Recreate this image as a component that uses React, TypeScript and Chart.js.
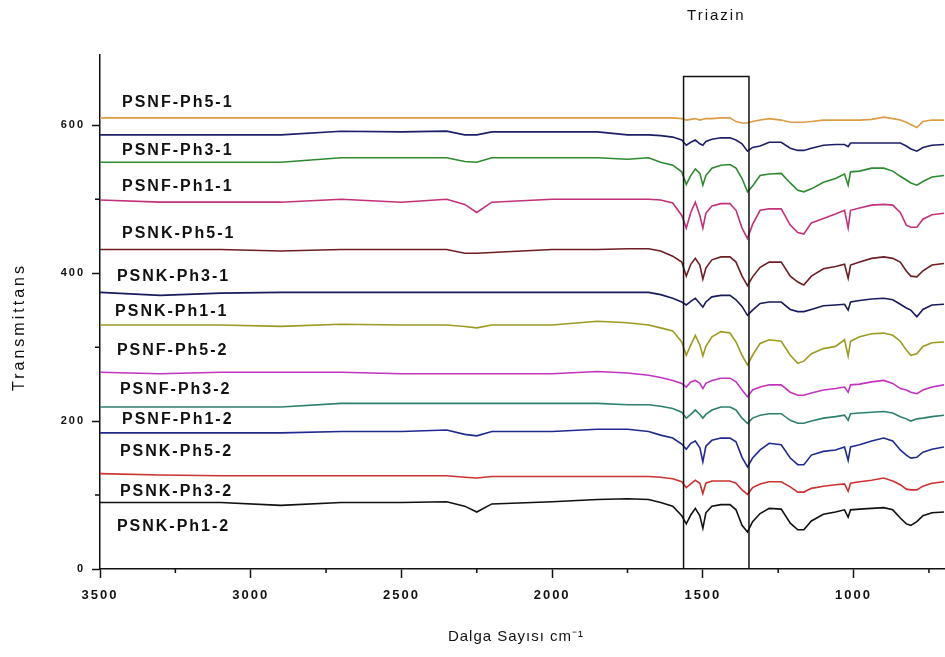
import React, { useEffect, useRef } from "react";
import { Chart, registerables } from "chart.js";

Chart.register(...registerables);

// Wavenumber grid (cm-1), shared by all spectra
const wavenumbers = [3500, 3300, 3100, 2900, 2700, 2500, 2350, 2290, 2250, 2200, 2000, 1850, 1750, 1680, 1640, 1600, 1570, 1555, 1540, 1525, 1510, 1500, 1490, 1470, 1440, 1410, 1390, 1370, 1352, 1335, 1310, 1280, 1240, 1210, 1185, 1165, 1140, 1100, 1060, 1030, 1018, 1010, 980, 940, 900, 870, 845, 825, 810, 790, 770, 740, 700];

const psnfPh5_1 = [610, 610, 610, 610, 610, 610, 610, 610, 610, 610, 610, 610, 610, 610, 610, 610, 609, 607, 608, 609, 607, 608, 609, 609, 610, 610, 605, 603, 603, 605, 607, 609, 607, 604, 604, 604, 605, 607, 607, 607, 607, 607, 607, 608, 611, 609, 607, 604, 601, 597, 605, 607, 607];
const psnfPh3_1 = [587, 587, 587, 587, 592, 591, 592, 587, 587, 591, 591, 591, 587, 587, 586, 584, 580, 573, 577, 580, 575, 573, 578, 581, 583, 583, 580, 575, 565, 570, 572, 577, 577, 569, 566, 566, 569, 573, 574, 574, 571, 576, 576, 576, 576, 576, 576, 572, 568, 565, 570, 573, 574];
const psnfPh1_1 = [550, 550, 550, 550, 556, 556, 556, 551, 550, 556, 556, 556, 554, 556, 550, 546, 537, 520, 532, 541, 535, 519, 532, 542, 546, 547, 542, 528, 510, 518, 532, 534, 535, 522, 512, 510, 514, 523, 528, 534, 519, 537, 538, 542, 542, 538, 531, 526, 522, 519, 524, 530, 532];
const psnkPh5_1 = [499, 496, 496, 496, 500, 496, 500, 493, 482, 496, 500, 500, 500, 500, 499, 495, 478, 461, 482, 496, 478, 461, 481, 491, 494, 494, 485, 461, 447, 466, 485, 487, 487, 465, 455, 453, 468, 474, 480, 485, 461, 485, 488, 492, 493, 492, 482, 465, 462, 462, 473, 479, 481];
const psnkPh3_1 = [432, 432, 432, 430, 432, 432, 432, 427, 427, 428, 432, 432, 433, 433, 430, 423, 415, 396, 412, 420, 411, 392, 407, 418, 422, 422, 415, 396, 383, 395, 408, 415, 415, 396, 388, 384, 396, 406, 409, 412, 393, 411, 415, 420, 422, 420, 415, 403, 396, 395, 403, 411, 413];
const psnkPh1_1 = [374, 370, 373, 374, 374, 374, 374, 374, 374, 374, 374, 374, 374, 374, 371, 366, 361, 357, 362, 366, 359, 354, 361, 368, 370, 370, 364, 355, 343, 350, 359, 361, 361, 351, 348, 348, 351, 356, 357, 358, 350, 361, 363, 365, 366, 364, 358, 353, 350, 341, 351, 357, 358];
const psnfPh5_2 = [330, 330, 330, 328, 331, 330, 330, 328, 326, 330, 330, 335, 333, 330, 326, 322, 307, 289, 303, 316, 303, 288, 301, 314, 321, 319, 307, 289, 276, 289, 305, 310, 308, 289, 278, 281, 291, 298, 301, 310, 288, 308, 314, 318, 319, 316, 308, 296, 289, 291, 301, 306, 307];
const psnfPh3_2 = [266, 264, 266, 266, 266, 264, 264, 264, 264, 264, 264, 267, 265, 262, 259, 255, 251, 246, 253, 255, 251, 244, 251, 255, 258, 258, 253, 242, 233, 242, 246, 249, 249, 239, 235, 235, 238, 242, 244, 246, 239, 249, 250, 253, 255, 251, 244, 242, 239, 237, 242, 246, 249];
const psnfPh1_2 = [219, 219, 219, 219, 224, 224, 224, 224, 224, 224, 224, 224, 222, 222, 220, 217, 212, 204, 209, 215, 209, 204, 209, 215, 219, 219, 215, 204, 197, 204, 208, 210, 210, 201, 197, 197, 200, 204, 206, 208, 201, 210, 211, 212, 213, 211, 206, 203, 200, 203, 204, 206, 208];
const psnkPh5_2 = [184, 184, 184, 184, 186, 186, 188, 182, 180, 186, 186, 189, 189, 186, 181, 177, 169, 162, 170, 173, 164, 145, 166, 174, 177, 177, 172, 151, 138, 150, 161, 170, 168, 150, 141, 141, 154, 159, 161, 165, 147, 165, 168, 173, 177, 173, 161, 154, 150, 151, 158, 162, 165];
const psnkPh3_2 = [129, 127, 126, 126, 126, 126, 126, 124, 123, 125, 125, 125, 125, 125, 124, 122, 118, 110, 115, 120, 116, 102, 116, 119, 119, 119, 116, 107, 101, 110, 115, 118, 118, 111, 104, 104, 109, 112, 114, 115, 105, 116, 118, 120, 123, 119, 114, 108, 107, 107, 112, 116, 118];
const psnkPh1_2 = [90, 90, 90, 86, 90, 90, 91, 85, 77, 88, 91, 94, 95, 94, 90, 85, 72, 61, 73, 82, 72, 55, 76, 85, 87, 87, 80, 59, 50, 64, 75, 82, 81, 62, 53, 53, 65, 74, 77, 80, 70, 80, 81, 82, 83, 80, 69, 61, 59, 64, 72, 76, 77];

const seriesValues = [psnfPh5_1, psnfPh3_1, psnfPh1_1, psnkPh5_1, psnkPh3_1, psnkPh1_1, psnfPh5_2, psnfPh3_2, psnfPh1_2, psnkPh5_2, psnkPh3_2, psnkPh1_2];
const seriesNames = ["PSNF-Ph5-1", "PSNF-Ph3-1", "PSNF-Ph1-1", "PSNK-Ph5-1", "PSNK-Ph3-1", "PSNK-Ph1-1", "PSNF-Ph5-2", "PSNF-Ph3-2", "PSNF-Ph1-2", "PSNK-Ph5-2", "PSNK-Ph3-2", "PSNK-Ph1-2"];
const seriesColors = ["#dc9c45", "#1c1f68", "#2e8a30", "#c2317a", "#6e1e22", "#181b5c", "#9c9a22", "#c233c0", "#2f7f70", "#20298e", "#cc3232", "#111111"];

// label anchor points (wavenumber, transmittance)
const labelX = [3427, 3427, 3427, 3427, 3444, 3450, 3444, 3434, 3427, 3434, 3434, 3444];
const labelY = [630, 566, 517, 453, 395, 348, 295, 242, 202, 159, 105, 57];

const xMajorTicks = [3500, 3000, 2500, 2000, 1500, 1000];
const yMajorTicks = [0, 200, 400, 600];
const yMinorTicks = [100, 300, 500];
const xMinorTicks = [3250, 2750, 2250, 1750, 1250, 750];

const boxRange = [1564, 1347];
const boxTop = 666;

const FONT = '"Liberation Sans", Arial, sans-serif';

const annotatePlugin = {
  id: "annotate",
  beforeDraw(chart: any) {
    chart.ctx.letterSpacing = "2px";
  },
  afterDatasetsDraw(chart: any) {
    const { ctx, scales } = chart;
    const x = scales.x;
    const y = scales.y;
    ctx.save();
    ctx.strokeStyle = "#111";
    ctx.lineWidth = 1.5;
    // Triazin box
    const x1 = x.getPixelForValue(boxRange[0]);
    const x2 = x.getPixelForValue(boxRange[1]);
    const yt = y.getPixelForValue(boxTop);
    const yb = y.getPixelForValue(0);
    ctx.beginPath();
    ctx.moveTo(x1, yb);
    ctx.lineTo(x1, yt);
    ctx.lineTo(x2, yt);
    ctx.lineTo(x2, yb);
    ctx.stroke();
    // minor ticks
    ctx.beginPath();
    yMinorTicks.forEach((v) => {
      const py = y.getPixelForValue(v);
      ctx.moveTo(x.left, py);
      ctx.lineTo(x.left - 5, py);
    });
    xMinorTicks.forEach((v) => {
      const px = x.getPixelForValue(v);
      ctx.moveTo(px, y.bottom);
      ctx.lineTo(px, y.bottom + 4);
    });
    ctx.stroke();
    // series labels
    ctx.fillStyle = "#111";
    ctx.font = `bold 16px ${FONT}`;
    ctx.letterSpacing = "2px";
    ctx.textAlign = "left";
    ctx.textBaseline = "middle";
    seriesNames.forEach((n, i) => {
      ctx.fillText(n, x.getPixelForValue(labelX[i]), y.getPixelForValue(labelY[i]));
    });
    // Triazin title
    ctx.textAlign = "center";
    ctx.font = `15px ${FONT}`;
    ctx.fillText("Triazin", (x1 + x2) / 2, 15.5);
    // axis titles
    ctx.font = `15px ${FONT}`;
    ctx.letterSpacing = "1px";
    ctx.fillText("Dalga Sayısı cm⁻¹", 516, 636.5);
    ctx.font = `16px ${FONT}`;
    ctx.letterSpacing = "3px";
    ctx.translate(20, 327);
    ctx.rotate(-Math.PI / 2);
    ctx.fillText("Transmittans", 0, 0);
    ctx.restore();
  },
  afterDraw(chart: any) {
    chart.ctx.letterSpacing = "0px";
  },
};

export default function App() {
  const canvasRef = useRef<HTMLCanvasElement | null>(null);

  useEffect(() => {
    if (!canvasRef.current) return;
    const datasets = seriesValues.map((vals, i) => ({
      label: seriesNames[i],
      data: wavenumbers.map((w, j) => ({ x: w, y: vals[j] })),
      borderColor: seriesColors[i],
      backgroundColor: seriesColors[i],
      borderWidth: 1.6,
      pointRadius: 0,
      tension: 0,
      fill: false,
    }));
    const chart = new Chart(canvasRef.current, {
      type: "line",
      data: { datasets },
      plugins: [annotatePlugin],
      options: {
        animation: false,
        responsive: true,
        maintainAspectRatio: false,
        layout: { padding: { top: 55, right: 1, left: 0, bottom: 0 } },
        plugins: { legend: { display: false }, tooltip: { enabled: false } },
        scales: {
          x: {
            type: "linear",
            reverse: true,
            min: 700,
            max: 3500,
            afterFit: (s: any) => {
              s.height = 88;
            },
            afterBuildTicks: (s: any) => {
              s.ticks = xMajorTicks.map((v) => ({ value: v }));
            },
            ticks: {
              autoSkip: false,
              maxRotation: 0,
              padding: 10,
              color: "#111",
              font: { family: FONT, size: 13, weight: "bold" },
              callback: (v: any) => String(v),
            },
            grid: { display: true, drawOnChartArea: false, drawTicks: true, tickLength: 9, tickColor: "#111", tickWidth: 1.5 },
            border: { display: true, color: "#111", width: 1.5 },
          },
          y: {
            type: "linear",
            min: 0,
            max: 695,
            afterFit: (s: any) => {
              s.width = 100;
            },
            afterBuildTicks: (s: any) => {
              s.ticks = yMajorTicks.map((v) => ({ value: v }));
            },
            ticks: {
              padding: 7,
              color: "#111",
              font: { family: FONT, size: 11, weight: "bold" },
              callback: (v: any) => String(v),
            },
            grid: { display: true, drawOnChartArea: false, drawTicks: true, tickLength: 8, tickColor: "#111", tickWidth: 1.5 },
            border: { display: true, color: "#111", width: 1.5 },
          },
        },
      },
    });
    return () => chart.destroy();
  }, []);

  return (
    <div style={{ position: "absolute", left: 0, top: 0, width: 945, height: 657, background: "#fff" }}>
      <canvas ref={canvasRef} />
    </div>
  );
}
